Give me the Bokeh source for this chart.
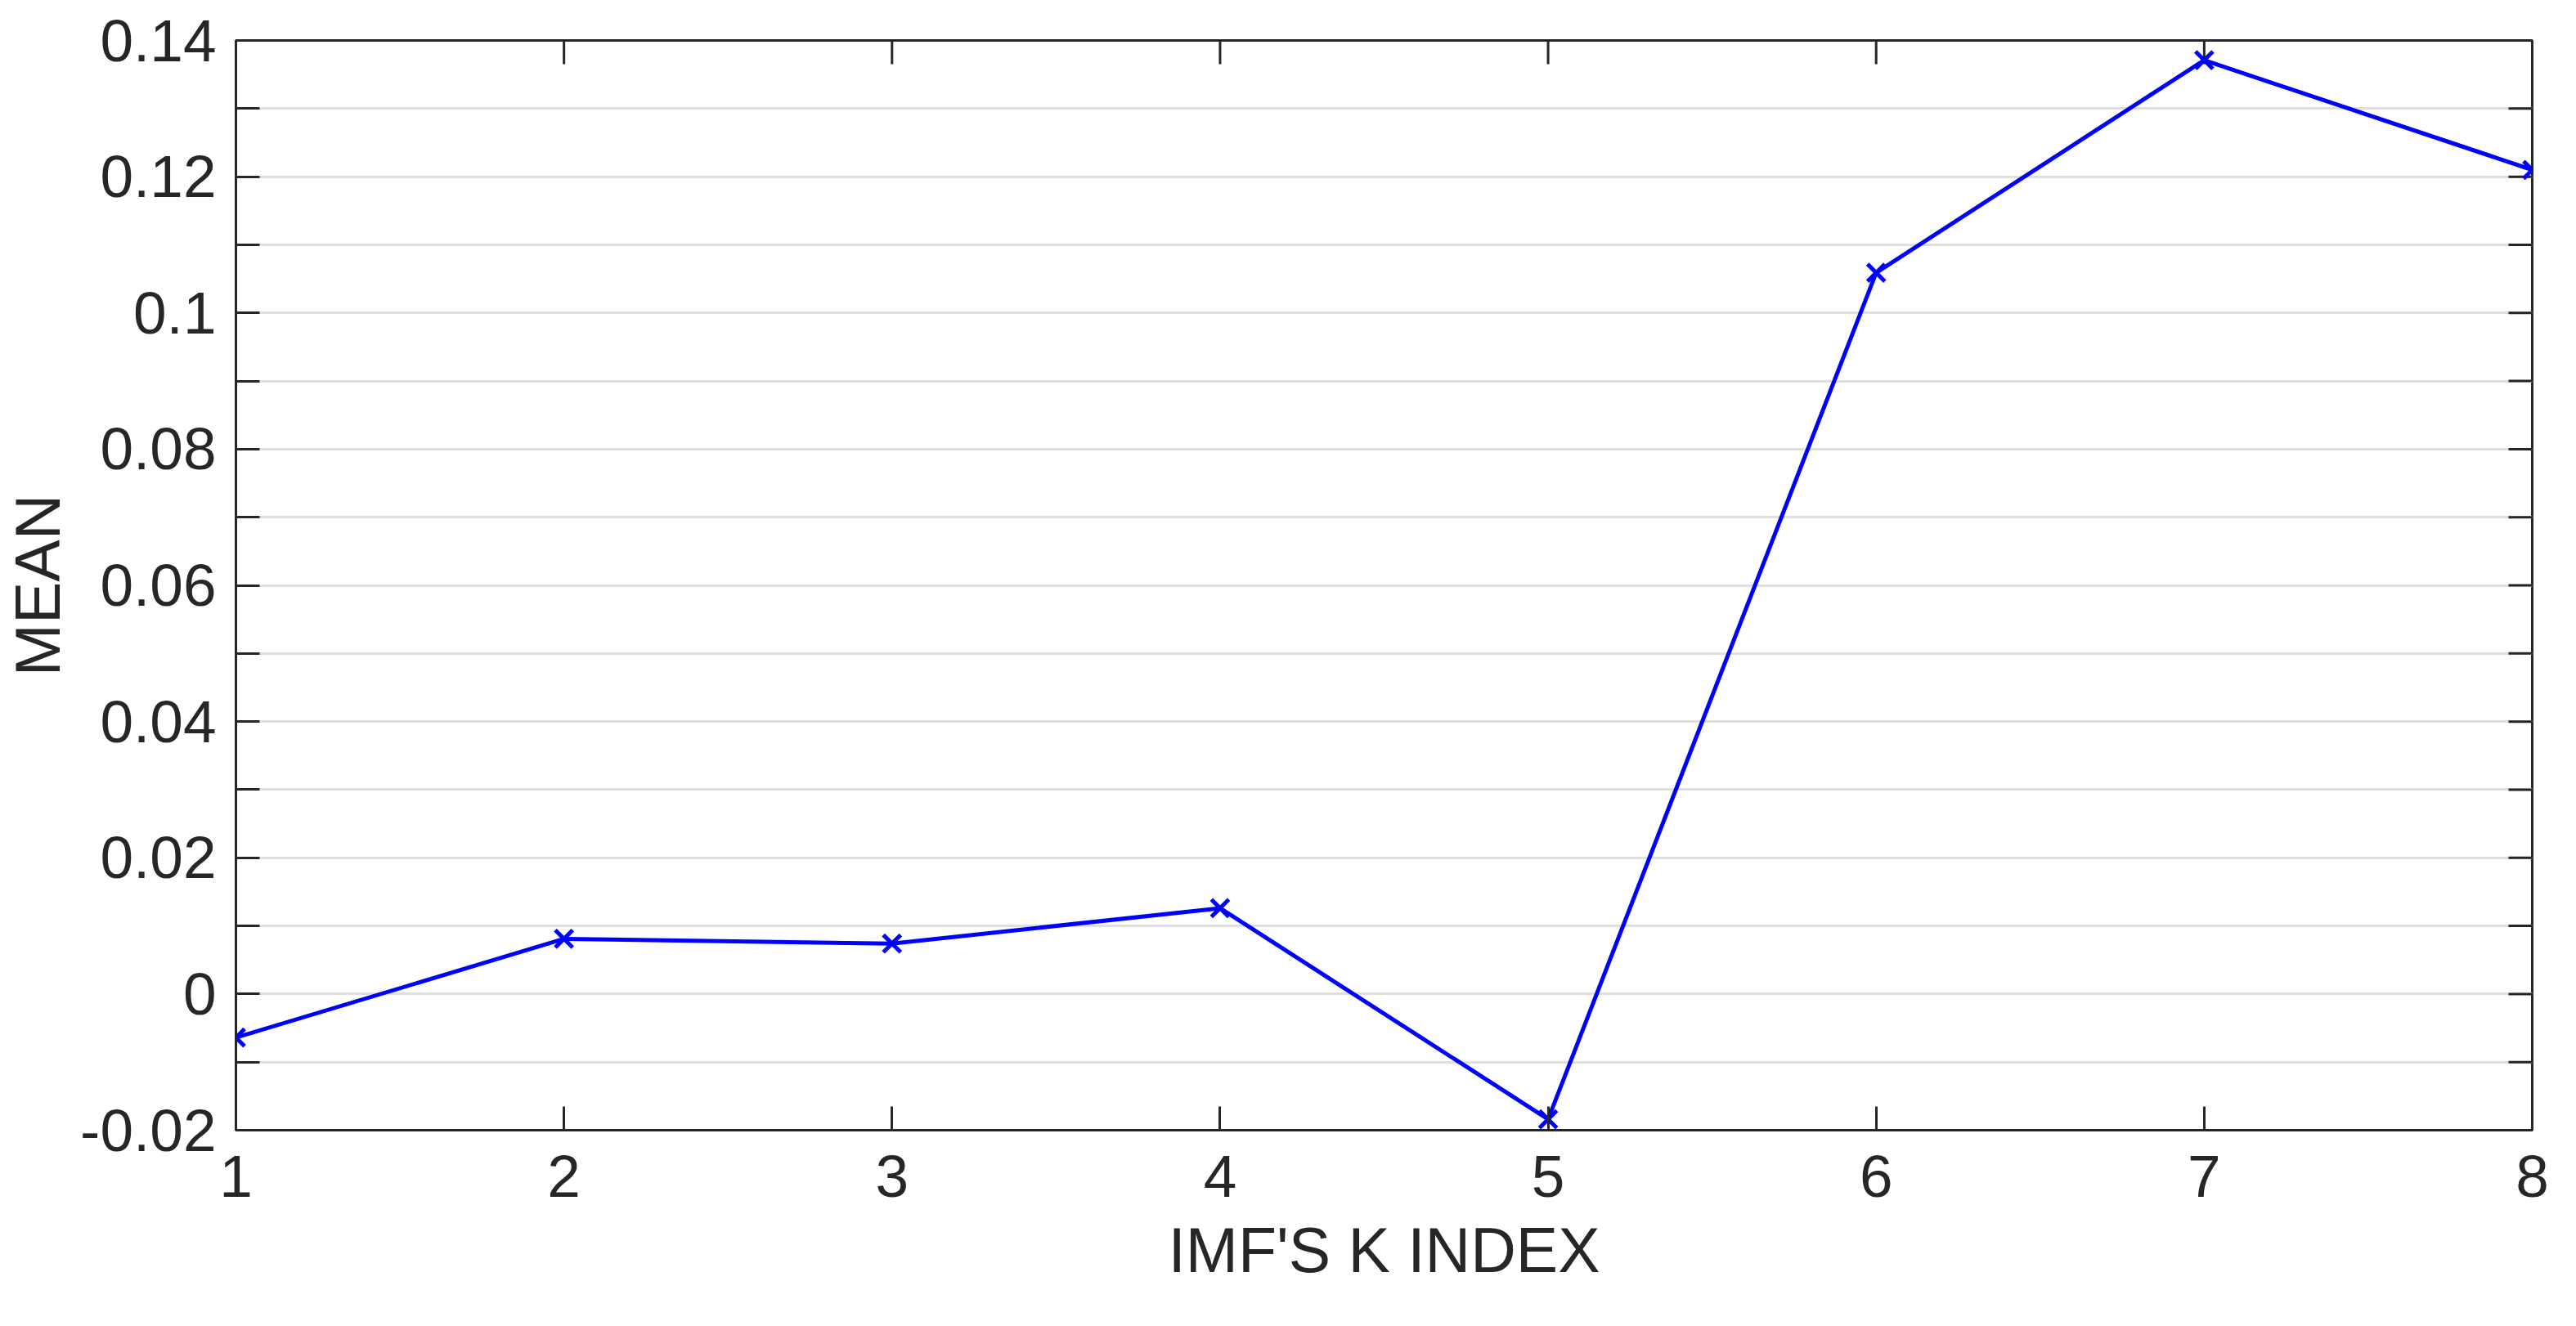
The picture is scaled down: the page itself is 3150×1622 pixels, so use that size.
import numpy as np
from bokeh.plotting import figure
from bokeh.models import Range1d, FixedTicker
from bokeh.embed import file_html
from bokeh.resources import INLINE

# ---- data ----
k_index = [1, 2, 3, 4, 5, 6, 7, 8]
mean_values = [-0.0064, 0.0081, 0.0074, 0.0126, -0.0184, 0.1059, 0.1371, 0.1210]

x_ticks = [1, 2, 3, 4, 5, 6, 7, 8]
y_major_ticks = [-0.02, 0.0, 0.02, 0.04, 0.06, 0.08, 0.1, 0.12, 0.14]
y_tick_labels = ["-0.02", "0", "0.02", "0.04", "0.06", "0.08", "0.1", "0.12", "0.14"]
y_minor_ticks = [-0.01, 0.01, 0.03, 0.05, 0.07, 0.09, 0.11, 0.13]

x_label = "IMF'S K INDEX"
y_label = "MEAN"

X_START, X_END = 1, 8
Y_START, Y_END = -0.02, 0.14

TXT = "#262626"
FONT = "Liberation Sans"
GRID = "#dfdfdf"
TICK_LEN = 29

p = figure(width=3134, height=1606, output_backend="svg", toolbar_location=None,
           x_range=Range1d(X_START, X_END), y_range=Range1d(Y_START, Y_END),
           min_border_left=283, min_border_right=38, min_border_top=49, min_border_bottom=224)
p.background_fill_color = "white"
p.border_fill_color = "white"
p.outline_line_color = TXT
p.outline_line_width = 3

yticker = FixedTicker(ticks=y_major_ticks, minor_ticks=y_minor_ticks)
xticker = FixedTicker(ticks=x_ticks, minor_ticks=[])

# grid
p.xgrid.visible = False
p.ygrid.ticker = yticker
p.ygrid.grid_line_color = GRID
p.ygrid.grid_line_width = 3
p.ygrid.minor_grid_line_color = GRID
p.ygrid.minor_grid_line_width = 3


def style_axis(ax):
    ax.axis_line_color = TXT
    ax.axis_line_width = 3
    ax.major_tick_line_color = TXT
    ax.major_tick_line_width = 3
    ax.minor_tick_line_color = TXT
    ax.minor_tick_line_width = 3
    ax.major_tick_out = 0
    ax.minor_tick_out = 0
    ax.major_tick_in = TICK_LEN
    ax.minor_tick_in = TICK_LEN
    ax.major_label_text_font = FONT
    ax.major_label_text_color = TXT
    ax.major_label_text_font_size = "73px"
    ax.axis_label_text_font = FONT
    ax.axis_label_text_color = TXT
    ax.axis_label_text_font_size = "77px"
    ax.axis_label_text_font_style = "normal"


# left axis
yax = p.yaxis[0]
yax.ticker = yticker
yax.major_label_overrides = dict(zip(y_major_ticks, y_tick_labels))
style_axis(yax)
yax.major_label_standoff = 24
yax.axis_label = y_label
yax.axis_label_standoff = 6

# bottom axis
xax = p.xaxis[0]
xax.ticker = xticker
style_axis(xax)
xax.minor_tick_in = 0
xax.major_label_standoff = 31
xax.axis_label = x_label
xax.axis_label_standoff = 19

# inward ticks on the right and top frame edges (mirror of left / bottom ticks)
all_y_ticks = y_major_ticks + y_minor_ticks
p.ray(x=[X_END] * len(all_y_ticks), y=all_y_ticks, length=TICK_LEN, length_units="screen",
      angle=np.pi, line_color=TXT, line_width=3)
p.ray(x=x_ticks, y=[Y_END] * len(x_ticks), length=TICK_LEN, length_units="screen",
      angle=-np.pi / 2, line_color=TXT, line_width=3)

# data
p.line(k_index, mean_values, line_color="#0000ff", line_width=5)
p.scatter(k_index, mean_values, marker="x", size=30, line_color="#0000ff", line_width=5)

open("out.html", "w").write(file_html(p, INLINE))
